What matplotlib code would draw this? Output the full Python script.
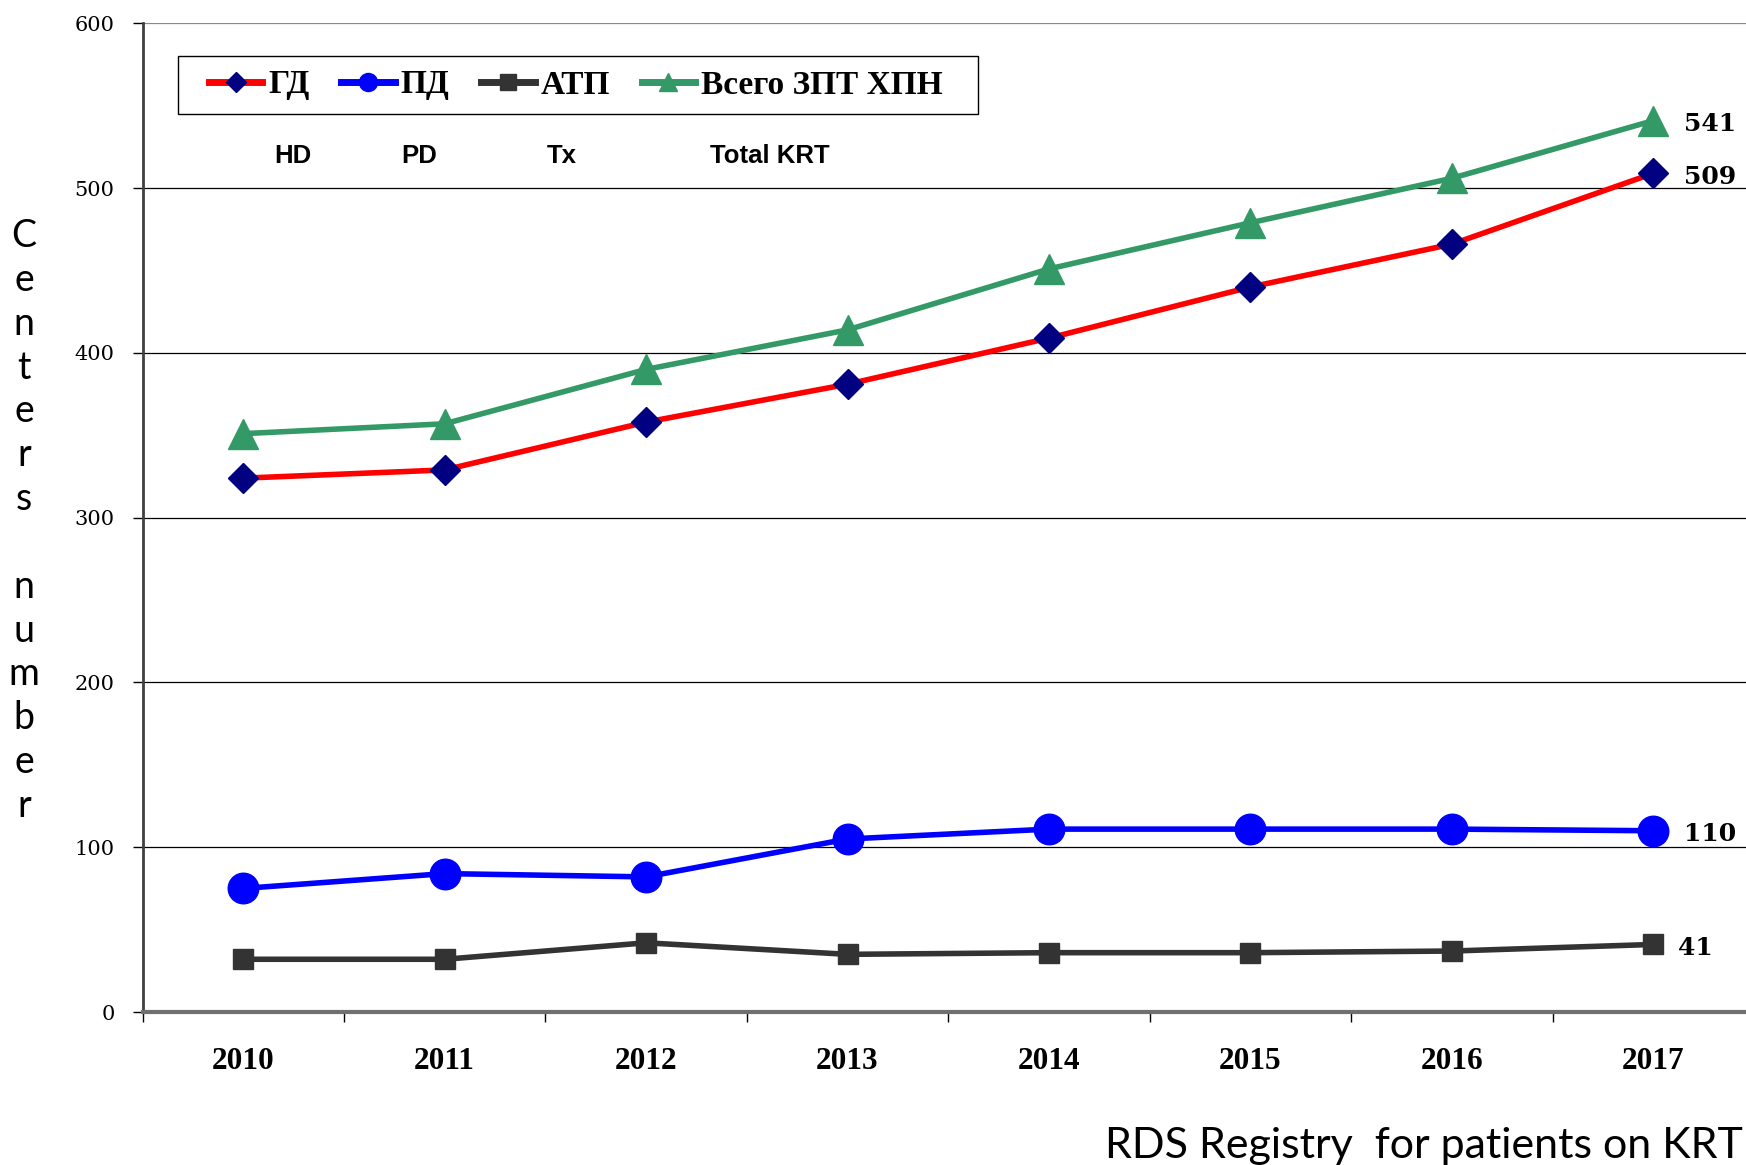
import matplotlib
matplotlib.use("Agg")
import matplotlib.pyplot as plt
from matplotlib.lines import Line2D
from matplotlib.patches import Rectangle

# data
years = ["2010", "2011", "2012", "2013", "2014", "2015", "2016", "2017"]
hd = [324, 329, 358, 381, 409, 440, 466, 509]
pd_ = [75, 84, 82, 105, 111, 111, 111, 110]
tx = [32, 32, 42, 35, 36, 36, 37, 41]
total = [351, 357, 390, 414, 451, 479, 506, 541]

legend_names = ["ГД", "ПД", "АТП", "Всего ЗПТ ХПН"]
english_names = ["HD", "PD", "Tx", "Total KRT"]
yticks = [0, 100, 200, 300, 400, 500, 600]

W, H = 1746, 1165
fig = plt.figure(figsize=(W / 100, H / 100), dpi=100)
ax = fig.add_axes([142.5 / W, 1 - 1012 / H, (1754 - 142.5) / W, (1012 - 23.4) / H])

x = list(range(len(years)))
red, blue, grey, green, navy = "#ff0000", "#0000ff", "#333333", "#339966", "#000080"

ax.plot(x, total, color=green, lw=4, marker="^", ms=21, mfc=green, mec=green, zorder=3)
ax.plot(x, hd, color=red, lw=4, marker="D", ms=15, mfc=navy, mec=navy, zorder=4)
ax.plot(x, pd_, color=blue, lw=4, marker="o", ms=22, mfc=blue, mec=blue, zorder=3)
ax.plot(x, tx, color=grey, lw=4, marker="s", ms=15, mfc=grey, mec=grey, zorder=3)

ax.set_xlim(-0.5, 7.5)
ax.set_ylim(0, 600)

# horizontal grid
for v in yticks[1:]:
    ax.axhline(v, color="black" if v < 600 else "#888888", lw=0.9, zorder=1)

ax.spines["top"].set_visible(False)
ax.spines["right"].set_visible(False)
ax.spines["left"].set_color("#404040")
ax.spines["left"].set_linewidth(2)
ax.spines["bottom"].set_color("#707070")
ax.spines["bottom"].set_linewidth(3)

ax.set_yticks(yticks)
ax.set_yticklabels([str(v) for v in yticks], family="DejaVu Serif", fontsize=15)
ax.tick_params(axis="y", length=7, width=1, pad=13, colors="black")

ax.set_xticks([i - 0.5 for i in range(len(years) + 1)])
ax.set_xticklabels([])
ax.set_xticks(x, minor=True)
ax.set_xticklabels(years, minor=True, family="Liberation Serif", fontweight="bold", fontsize=22.5)
ax.tick_params(axis="x", which="major", length=7, width=1, color="black")
ax.tick_params(axis="x", which="minor", length=0, pad=25)

# end labels
for vals in [total, hd, pd_, tx]:
    off = 22 if vals[-1] > 50 else 18
    ax.annotate(str(vals[-1]), (x[-1], vals[-1]), xytext=(off, -2.5), textcoords="offset points",
                va="center", ha="left", family="DejaVu Serif", fontweight="bold", fontsize=18)

handles = [
    Line2D([], [], color=red, lw=5, marker="D", ms=10, mfc=navy, mec=navy),
    Line2D([], [], color=blue, lw=5, marker="o", ms=13, mfc=blue, mec=blue),
    Line2D([], [], color=grey, lw=5, marker="s", ms=12, mfc=grey, mec=grey),
    Line2D([], [], color=green, lw=5, marker="^", ms=13, mfc=green, mec=green),
]
fig.patches.append(Rectangle((178 / W, 1 - 114 / H), 800 / W, 58 / H, transform=fig.transFigure,
                             fill=True, facecolor="white", edgecolor="black", lw=1, zorder=5))
leg = fig.legend(handles, legend_names, loc="center left", bbox_to_anchor=(209 / W, 1 - 85 / H),
                 ncol=4, frameon=False, borderaxespad=0, borderpad=0,
                 handlelength=1.6, handletextpad=0.18, columnspacing=0.95,
                 prop={"family": "Liberation Serif", "weight": "bold", "size": 24})
leg.set_zorder(6)

for name, px in zip(english_names, [293, 419, 562, 770]):
    fig.text(px / W, 1 - 156 / H, name, ha="center", va="center",
             family="Liberation Sans", fontweight="bold", fontsize=18.5)

# stacked vertical y label
ylabel = "\n".join(list("Centers") + [" "] + list("number"))
fig.text(24 / W, 1 - 521 / H, ylabel, ha="center", va="center", family="Lato",
         fontsize=27, linespacing=1.27)

fig.text(1743 / W, 7 / H, "RDS Registry  for patients on KRT", ha="right", va="baseline",
         family="Lato", fontsize=31)

fig.savefig("out.png", dpi=100)
